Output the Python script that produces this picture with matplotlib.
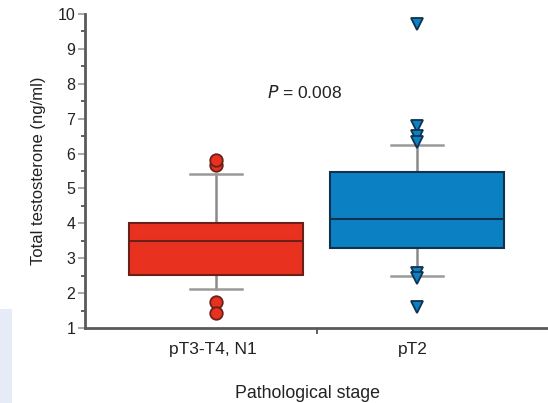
import matplotlib.pyplot as plt
import matplotlib.patches as mpatches

plt.rcParams['font.family'] = ['Liberation Sans', 'DejaVu Sans']

# data
groups = ['pT3-T4, N1', 'pT2']
q1 = [2.53, 3.30]
med = [3.48, 4.13]
q3 = [4.00, 5.48]
whis_lo = [2.12, 2.50]
whis_hi = [5.42, 6.25]
fliers = [[5.67, 5.82, 1.75, 1.43],
          [9.70, 6.78, 6.50, 6.33, 2.58, 2.42, 1.60]]

box_colors = ['#e8321f', '#0b80c3']
edge_colors = ['#6a2018', '#10324e']
flier_markers = ['o', 'v']
flier_sizes = [9, 9]

fig = plt.figure(figsize=(5.48, 4.03), dpi=100)

# pale panel at lower left
fig.patches.append(mpatches.Rectangle((0, 0), 12 / 548, 94 / 403,
                                      transform=fig.transFigure,
                                      facecolor='#e5ecf8', edgecolor='none'))

ax = fig.add_axes([85 / 548, 75 / 403, 1 - 85 / 548, 314 / 403])

for i in range(2):
    stats = [dict(med=med[i], q1=q1[i], q3=q3[i], whislo=whis_lo[i],
                  whishi=whis_hi[i], fliers=[], label=groups[i])]
    bp = ax.bxp(stats, positions=[i + 1], widths=0.87, patch_artist=True,
                showfliers=False, manage_ticks=False,
                boxprops=dict(facecolor=box_colors[i], edgecolor=edge_colors[i], linewidth=1.5),
                medianprops=dict(color=edge_colors[i], linewidth=1.5),
                whiskerprops=dict(color='#8a8a8a', linewidth=1.8),
                capprops=dict(color='#9a9a9a', linewidth=1.8),
                capwidths=0.26)
    for w in bp['whiskers']:
        w.set_zorder(1)
    ax.plot([i + 1] * len(fliers[i]), fliers[i], linestyle='none',
            marker=flier_markers[i], markersize=flier_sizes[i],
            markerfacecolor=box_colors[i], markeredgecolor=edge_colors[i],
            markeredgewidth=1.3, zorder=4)

ax.set_xlim(0.343, 2.657)
ax.set_ylim(1, 10)
ax.set_yticks(range(1, 11))
ax.set_yticks([v + 0.5 for v in range(1, 10)], minor=True)
ax.set_xticks([1.5])
ax.set_xticklabels([''])
for i, g in enumerate(groups):
    ax.text(i + 1 - 0.02, -0.045, g, transform=ax.get_xaxis_transform(),
            ha='center', va='top', fontsize=12.5, color='#222222')

for s in ['top', 'right']:
    ax.spines[s].set_visible(False)
for s in ['left', 'bottom']:
    ax.spines[s].set_color('#5a5a5a')
    ax.spines[s].set_linewidth(2.0)
ax.tick_params(axis='y', which='major', length=5, width=1.2, color='#999999',
               labelsize=11.5, labelcolor='#222222', pad=2)
ax.tick_params(axis='y', which='minor', length=3, width=1.2, color='#444444')
ax.tick_params(axis='x', length=4, width=1.2, color='#444444')

ax.set_ylabel('Total testosterone (ng/ml)', fontsize=12, color='#222222', labelpad=8)
ax.text(0.48, -0.18, 'Pathological stage', transform=ax.transAxes,
        ha='center', va='top', fontsize=12.8, color='#222222')
ax.text(1.44, 7.75, r'$P$ = 0.008', ha='center', va='center', fontsize=12.5,
        color='#222222')

fig.savefig('out.png', dpi=100)
